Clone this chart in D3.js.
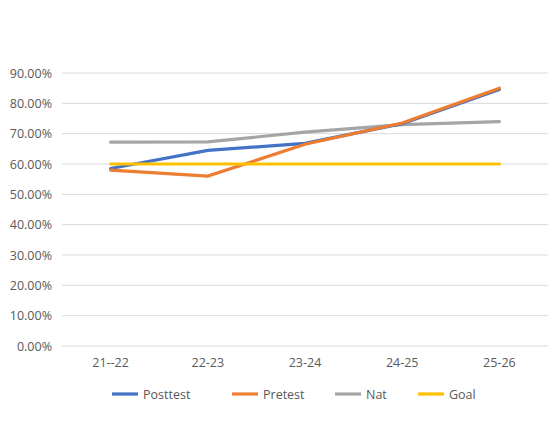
<!DOCTYPE html><html><head><script src="https://cdn.jsdelivr.net/npm/d3@7"></script>
<style>body{margin:0;background:#fff}text{font-family:"Open Sans","Liberation Sans",Arial,sans-serif;fill:#595959}</style></head><body>
<svg id="c" width="555" height="444"></svg>
<script>
const categories=["21--22","22-23","23-24","24-25","25-26"];
const posttest=[0.585,0.645,0.668,0.733,0.846];
const pretest=[0.58,0.56,0.665,0.735,0.85];
const nat=[0.672,0.673,0.705,0.73,0.74];
const goal=[0.60,0.60,0.60,0.60,0.60];
const series=[["Posttest",posttest,"#4472C4"],["Pretest",pretest,"#ED7D31"],["Nat",nat,"#A5A5A5"],["Goal",goal,"#FFC000"]];
const svg=d3.select("#c");
const x=d3.scaleBand().domain(categories).range([62,548]);
const y=d3.scaleLinear().domain([0,0.9]).range([346,73]);
const ticks=d3.range(0,10).map(i=>i/10);
svg.append("g").selectAll("line").data(ticks).join("line").attr("x1",62).attr("x2",548)
 .attr("y1",d=>y(d)).attr("y2",d=>y(d)).attr("stroke","#d9d9d9");
svg.append("g").selectAll("text").data(ticks).join("text").attr("x",52).attr("y",d=>y(d)+4.5)
 .attr("text-anchor","end").attr("font-size",12.5).text(d=>d3.format(".2%")(d));
svg.append("g").selectAll("text").data(categories).join("text").attr("x",d=>x(d)+x.bandwidth()/2)
 .attr("y",367).attr("text-anchor","middle").attr("font-size",12.5).text(d=>d);
const line=d3.line().x((d,i)=>x(categories[i])+x.bandwidth()/2).y(d=>y(d));
const order=[2,0,1,3];
order.forEach(k=>{const s=series[k];svg.append("path").attr("d",line(s[1])).attr("fill","none")
 .attr("stroke",s[2]).attr("stroke-width",3.2).attr("stroke-linecap","round");});
const lx=[112,232,335,418];
series.forEach((s,i)=>{const g=svg.append("g").attr("transform",`translate(${lx[i]},394)`);
 g.append("line").attr("x1",0).attr("x2",26).attr("stroke",s[2]).attr("stroke-width",3.2);
 g.append("text").attr("x",31).attr("y",4.5).attr("font-size",12.5).text(s[0]);});
</script></body></html>
